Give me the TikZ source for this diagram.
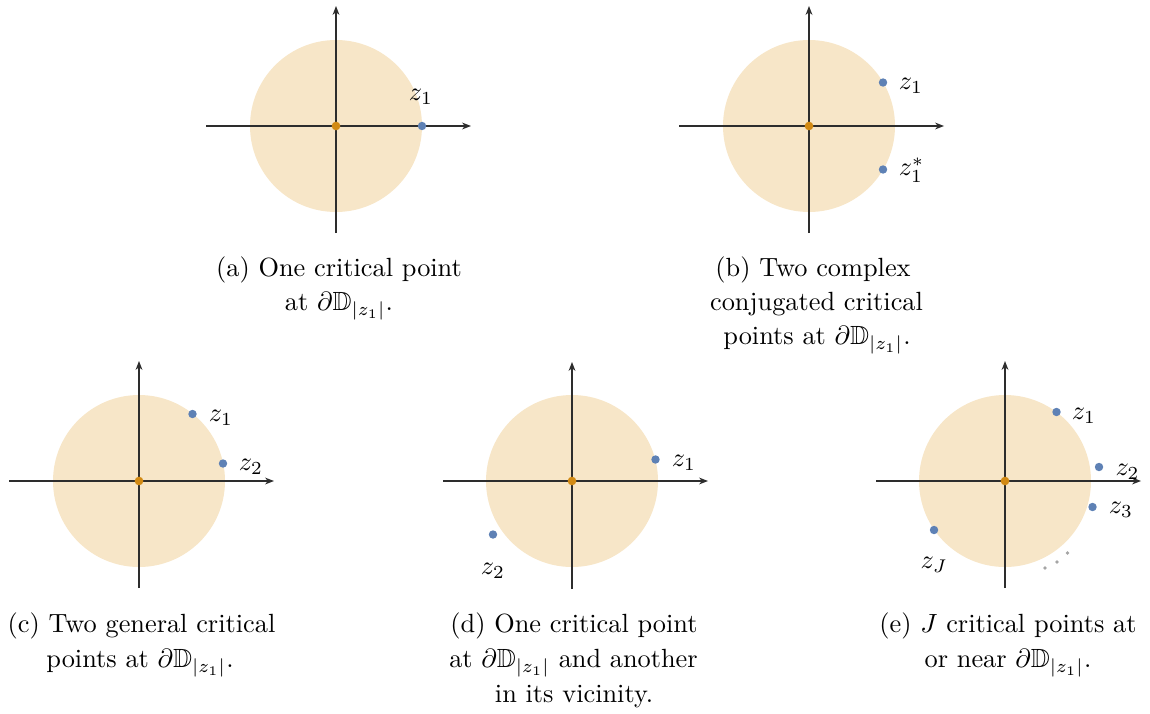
\documentclass[tikz,border=0pt]{standalone}
\usepackage{amssymb}
\usetikzlibrary{arrows.meta}
\definecolor{diskfill}{RGB}{247,230,200}
\definecolor{origc}{RGB}{210,138,20}
\definecolor{bluec}{RGB}{94,129,181}
\definecolor{grayc}{RGB}{165,165,165}
\definecolor{axisc}{RGB}{45,45,45}
\tikzset{
  disk/.style={fill=diskfill},
  axis/.style={draw=axisc,line width=0.45pt,-{Stealth[length=3.4pt,width=2.6pt]}},
  odot/.style={circle,fill=origc,inner sep=0pt,minimum size=3.3pt},
  bdot/.style={circle,fill=bluec,inner sep=0pt,minimum size=3.2pt},
  gdot/.style={circle,fill=grayc,inner sep=0pt,minimum size=1.4pt},
  lbl/.style={inner sep=0pt},
  captxt/.style={inner sep=0pt,anchor=mid}
}
\begin{document}
\begin{tikzpicture}[x=0.38pt,y=-0.38pt]
\useasboundingbox (0,0) rectangle (1150,713);
% ---------- panel (a)
\coordinate (oa) at (336,126);
\fill[disk] (oa) circle[radius=32.68pt];
\coordinate (axl) at (206,126); \coordinate (axr) at (471,126);
\coordinate (ayb) at (336,233); \coordinate (ayt) at (336,6);
\draw[axis] (axl) -- (axr);
\draw[axis] (ayb) -- (ayt);
\node[odot] (oa0) at (oa) {};
\node[bdot] (a1) at (422,126) {};
\node[lbl] (a1l) at (421,97) {$z_1$};
\node[captxt] (capa1) at (339,271) {(a) One critical point};
\node[captxt] (capa2) at (339,305) {at $\partial\mathbb{D}_{|z_1|}$.};
% ---------- panel (b)
\coordinate (ob) at (809,126);
\fill[disk] (ob) circle[radius=32.68pt];
\coordinate (bxl) at (679,126); \coordinate (bxr) at (944,126);
\coordinate (byb) at (809,233); \coordinate (byt) at (809,6);
\draw[axis] (bxl) -- (bxr);
\draw[axis] (byb) -- (byt);
\node[odot] (ob0) at (ob) {};
\node[bdot] (b1) at (883,82.5) {};
\node[bdot] (b2) at (883,169.5) {};
\node[lbl] (b1l) at (911,86) {$z_1$};
\node[lbl] (b2l) at (911.5,170) {$z_1^*$};
\node[captxt] (capb1) at (813,271) {(b) Two complex};
\node[captxt] (capb2) at (816.5,305) {conjugated critical};
\node[captxt] (capb3) at (817,339) {points at $\partial\mathbb{D}_{|z_1|}$.};
% ---------- panel (c)
\coordinate (oc) at (139,481);
\fill[disk] (oc) circle[radius=32.68pt];
\coordinate (cxl) at (9,481); \coordinate (cxr) at (274,481);
\coordinate (cyb) at (139,588); \coordinate (cyt) at (139,361);
\draw[axis] (cxl) -- (cxr);
\draw[axis] (cyb) -- (cyt);
\node[odot] (oc0) at (oc) {};
\node[bdot] (c1) at (192.5,414) {};
\node[bdot] (c2) at (223,463.5) {};
\node[lbl] (c1l) at (221,418) {$z_1$};
\node[lbl] (c2l) at (251,467) {$z_2$};
\node[captxt] (capc1) at (141.5,627) {(c) Two general critical};
\node[captxt] (capc2) at (140,662) {points at $\partial\mathbb{D}_{|z_1|}$.};
% ---------- panel (d)
\coordinate (od) at (572,481);
\fill[disk] (od) circle[radius=32.68pt];
\coordinate (dxl) at (443,481); \coordinate (dxr) at (708,481);
\coordinate (dyb) at (572,589); \coordinate (dyt) at (572,362);
\draw[axis] (dxl) -- (dxr);
\draw[axis] (dyb) -- (dyt);
\node[odot] (od0) at (od) {};
\node[bdot] (d1) at (655.5,459.5) {};
\node[bdot] (d2) at (493,534.5) {};
\node[lbl] (d1l) at (684,463) {$z_1$};
\node[lbl] (d2l) at (493,571) {$z_2$};
\node[captxt] (capd1) at (574,627) {(d) One critical point};
\node[captxt] (capd2) at (573.5,662) {at $\partial\mathbb{D}_{|z_1|}$ and another};
\node[captxt] (capd3) at (574,697) {in its vicinity.};
% ---------- panel (e)
\coordinate (oe) at (1005,481);
\fill[disk] (oe) circle[radius=32.68pt];
\coordinate (exl) at (876,481); \coordinate (exr) at (1141,481);
\coordinate (eyb) at (1005,588); \coordinate (eyt) at (1005,361);
\draw[axis] (exl) -- (exr);
\draw[axis] (eyb) -- (eyt);
\node[odot] (oe0) at (oe) {};
\node[bdot] (e1) at (1056.5,412) {};
\node[bdot] (e2) at (1099,467) {};
\node[bdot] (e3) at (1092.5,507) {};
\node[bdot] (eJ) at (934,530) {};
\node[gdot] (g1) at (1067.5,553) {};
\node[gdot] (g2) at (1057,562) {};
\node[gdot] (g3) at (1045,568) {};
\node[lbl] (e1l) at (1084,416) {$z_1$};
\node[lbl] (e2l) at (1127.5,471.5) {$z_2$};
\node[lbl] (e3l) at (1121,509.5) {$z_3$};
\node[lbl] (eJl) at (934,565) {$z_J$};
\node[captxt] (cape1) at (1008,627) {(e) $J$ critical points at};
\node[captxt] (cape2) at (1008,662) {or near $\partial\mathbb{D}_{|z_1|}$.};
\end{tikzpicture}
\end{document}
